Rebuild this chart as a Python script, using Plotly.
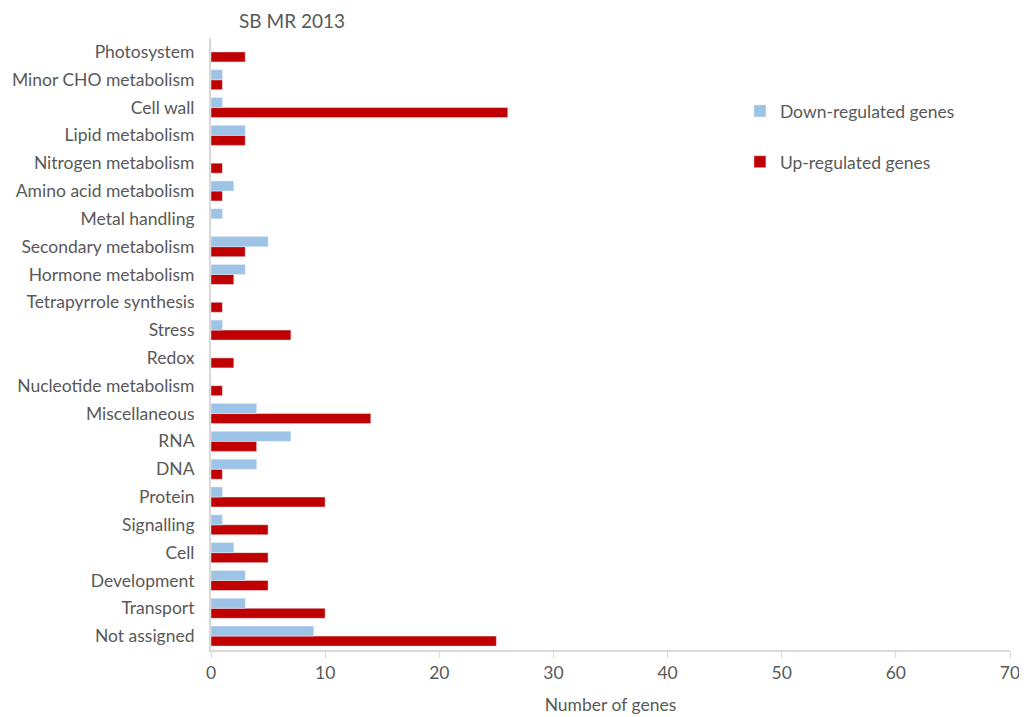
import plotly.graph_objects as go

categories = ["Photosystem", "Minor CHO metabolism", "Cell wall", "Lipid metabolism",
              "Nitrogen metabolism", "Amino acid metabolism", "Metal handling",
              "Secondary metabolism", "Hormone metabolism", "Tetrapyrrole synthesis",
              "Stress", "Redox", "Nucleotide metabolism", "Miscellaneous", "RNA", "DNA",
              "Protein", "Signalling", "Cell", "Development", "Transport", "Not assigned"]
down = [0, 1, 1, 3, 0, 2, 1, 5, 3, 0, 1, 0, 0, 4, 7, 4, 1, 1, 2, 3, 3, 9]
up = [3, 1, 26, 3, 1, 1, 0, 3, 2, 1, 7, 2, 1, 14, 4, 1, 10, 5, 5, 5, 10, 25]
x_ticks = [0, 10, 20, 30, 40, 50, 60, 70]

FONT = "Lato, 'Open Sans', sans-serif"
GRAY = "#595959"
FS = 17.5

fig = go.Figure()
fig.add_trace(go.Bar(y=categories, x=up, orientation="h", name="Up-regulated genes",
                     marker=dict(color="#C00000"), legendgroup="up", legendrank=2))
fig.add_trace(go.Bar(y=categories, x=down, orientation="h", name="Down-regulated genes",
                     marker=dict(color="#9DC3E6"), legendgroup="down", legendrank=1))

fig.update_layout(
    width=1027, height=717,
    margin=dict(l=203, r=25, t=30, b=75),
    paper_bgcolor="white", plot_bgcolor="white",
    barmode="group", bargap=0.28, bargroupgap=0,
    font=dict(family=FONT, size=FS, color=GRAY),
    title=dict(text="SB MR 2013", x=0.225, xanchor="left", y=0.99, yanchor="top",
               font=dict(size=19, color=GRAY, family=FONT)),
    legend=dict(x=0.662, y=0.91, xanchor="left", yanchor="top", itemwidth=30,
                tracegroupgap=25, font=dict(size=FS, color=GRAY, family=FONT),
                bgcolor="rgba(0,0,0,0)"),
    showlegend=True,
)
fig.update_xaxes(range=[0, 70], tickvals=x_ticks, showgrid=False, zeroline=False,
                 showline=True, linecolor="#D9D9D9", linewidth=2, automargin=False,
                 ticks="outside", tickcolor="#D9D9D9", ticklen=6, tickwidth=1,
                 title=dict(text="Number of genes", font=dict(size=FS, color=GRAY), standoff=17),
                 tickfont=dict(size=FS, color=GRAY))
fig.update_yaxes(categoryorder="array", categoryarray=categories[::-1], automargin=False,
                 showgrid=False, showline=True, linecolor="#D9D9D9", linewidth=2,
                 ticks="", ticklabelstandoff=11, tickfont=dict(size=FS, color=GRAY))

fig.write_html("out.html")
